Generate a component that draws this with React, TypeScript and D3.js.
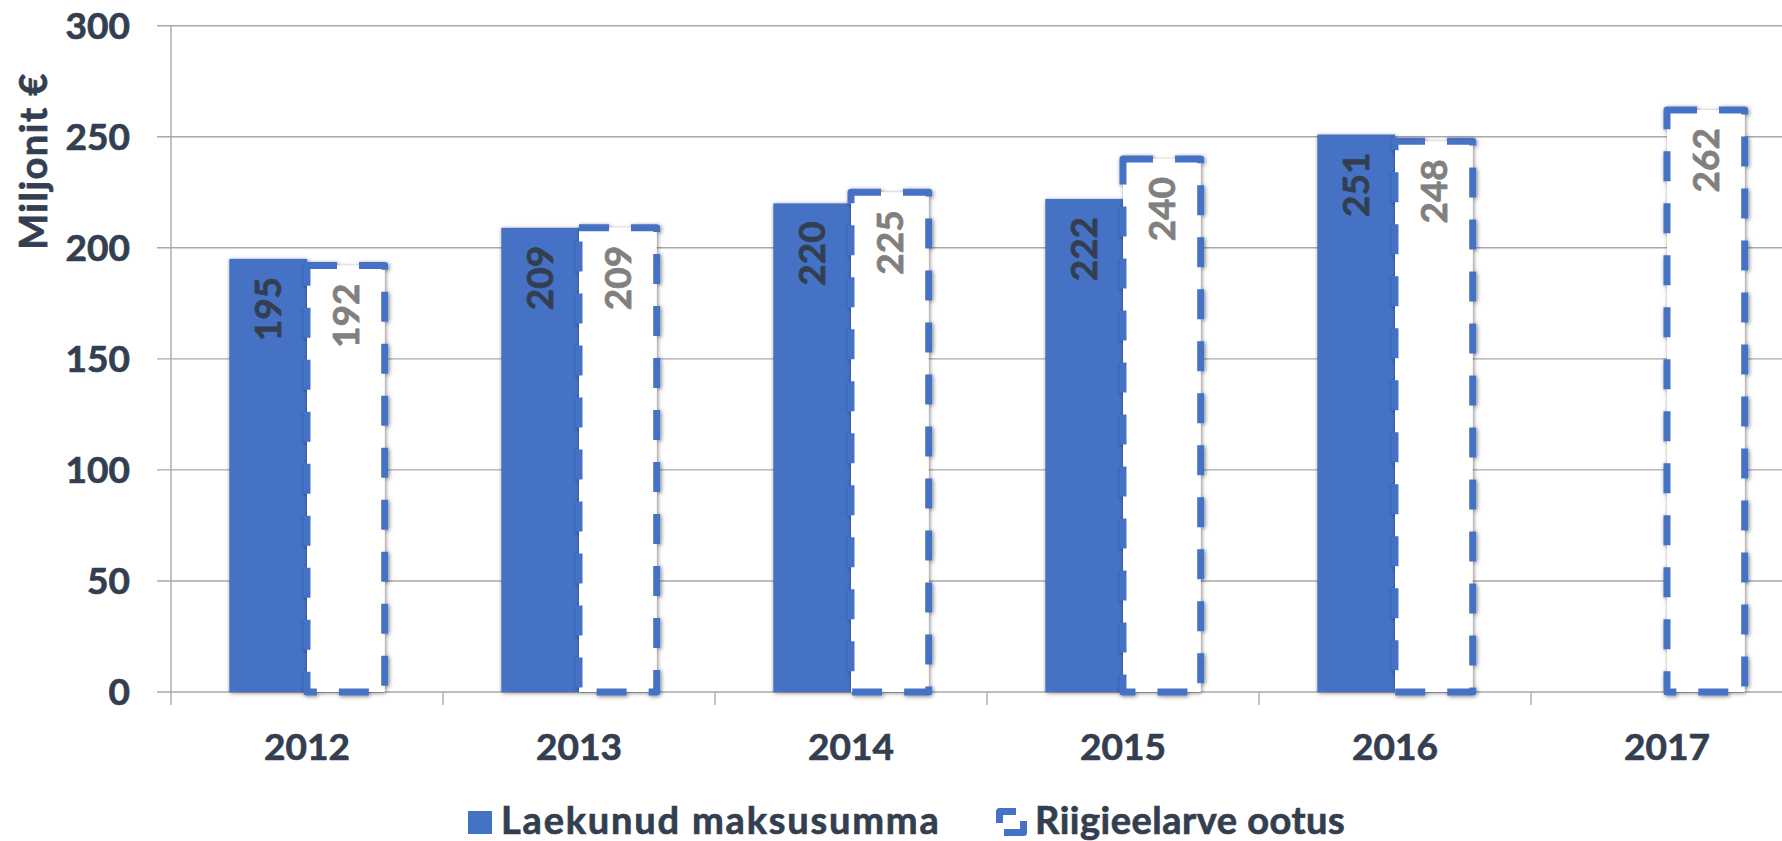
import React from "react";
import * as d3 from "d3";

const years = ["2012", "2013", "2014", "2015", "2016", "2017"];
const actual: (number | null)[] = [195, 209, 220, 222, 251, null];
const budget: number[] = [192, 209, 225, 240, 248, 262];
const yTicks = [0, 50, 100, 150, 200, 250, 300];
const seriesNames = ["Laekunud maksusumma", "Riigieelarve ootus"];

const W = 1782;
const H = 841;
const FONT = "Lato, 'Open Sans', sans-serif";
const FS = 37;
const FW = 700;
const DARK = "#333F50";
const GREY = "#808080";
const BLUE = "#4472C4";
const GRID = "#A9A9A9";
const SW = 0.7;

export default function App() {
  const left = 171;
  const right = 1803;
  const top = 25.7;
  const base = 692;
  const y = d3.scaleLinear().domain([0, 300]).range([base, top]);
  const x0 = d3.scaleBand<string>().domain(years).range([left, right]).paddingInner(0).paddingOuter(0);
  const x1 = d3
    .scaleBand<string>()
    .domain(seriesNames)
    .range([0, x0.bandwidth()])
    .paddingInner(0)
    .paddingOuter(0.75);
  const bw = x1.bandwidth();
  const cap = 0.7165 * FS;

  const txt = (color: string) => ({ fill: color, stroke: color, strokeWidth: SW, fontWeight: FW });

  return (
    <svg
      width={W}
      height={H}
      style={{ position: "absolute", left: 0, top: 0, background: "#fff" }}
      fontFamily={FONT}
    >
      <defs>
        <filter id="sh" x="-30%" y="-5%" width="160%" height="110%">
          <feDropShadow dx="1" dy="1" stdDeviation="2.2" floodColor="#000" floodOpacity="0.5" />
        </filter>
      </defs>
      <rect x={0} y={0} width={W} height={H} fill="#fff" />
      {yTicks.map((t) => (
        <line key={t} x1={157} x2={W} y1={y(t)} y2={y(t)} stroke={GRID} strokeWidth={1.4} />
      ))}
      <line x1={left} x2={left} y1={top} y2={705} stroke={GRID} strokeWidth={1.4} />
      {years.map((yr) => (
        <line
          key={yr}
          x1={(x0(yr) as number) + x0.bandwidth()}
          x2={(x0(yr) as number) + x0.bandwidth()}
          y1={base}
          y2={705}
          stroke={GRID}
          strokeWidth={1.4}
        />
      ))}
      {yTicks.map((t) => (
        <text key={t} x={130} y={y(t) + cap / 2} textAnchor="end" fontSize={FS} {...txt(DARK)}>
          {t}
        </text>
      ))}
      <text
        transform={`translate(${20 + cap},161) rotate(-90)`}
        textAnchor="middle"
        fontSize={38}
        letterSpacing={1.5}
        {...txt(DARK)}
      >
        Miljonit €
      </text>
      {years.map((yr, i) => {
        const gx = x0(yr) as number;
        const a = actual[i];
        const b = budget[i];
        const ax = gx + (x1(seriesNames[0]) as number);
        const bx = gx + (x1(seriesNames[1]) as number);
        return (
          <g key={yr}>
            {a != null && (
              <rect x={ax} y={y(a)} width={bw} height={base - y(a)} fill={BLUE} filter="url(#sh)" />
            )}
            <rect
              x={bx}
              y={y(b)}
              width={bw}
              height={base - y(b)}
              fill="#fff"
              stroke={BLUE}
              strokeWidth={7}
              strokeDasharray="30 22"
              strokeLinejoin="round"
              filter="url(#sh)"
            />
          </g>
        );
      })}
      {years.map((yr, i) => {
        const gx = x0(yr) as number;
        const a = actual[i];
        const b = budget[i];
        const acx = gx + (x1(seriesNames[0]) as number) + bw / 2;
        const bcx = gx + (x1(seriesNames[1]) as number) + bw / 2;
        return (
          <g key={"l" + yr}>
            {a != null && (
              <text
                transform={`translate(${acx + cap / 2},${y(a) + 18}) rotate(-90)`}
                textAnchor="end"
                fontSize={FS}
                {...txt(DARK)}
              >
                {a}
              </text>
            )}
            <text
              transform={`translate(${bcx + cap / 2},${y(b) + 18}) rotate(-90)`}
              textAnchor="end"
              fontSize={FS}
              {...txt(GREY)}
            >
              {b}
            </text>
          </g>
        );
      })}
      {years.map((yr) => (
        <text
          key={"x" + yr}
          x={(x0(yr) as number) + x0.bandwidth() / 2}
          y={760}
          textAnchor="middle"
          fontSize={FS}
          {...txt(DARK)}
        >
          {yr}
        </text>
      ))}
      <rect x={468} y={811} width={24} height={23} fill={BLUE} />
      <text x={501} y={834} fontSize={38} letterSpacing={1.8} {...txt(DARK)}>
        {seriesNames[0]}
      </text>
      <path d="M999.5,823 V811.5 H1016" fill="none" stroke={BLUE} strokeWidth={7} strokeLinejoin="round" />
      <path d="M1023.5,821 V832.5 H1004" fill="none" stroke={BLUE} strokeWidth={7} strokeLinejoin="round" />
      <text x={1035} y={834} fontSize={38} letterSpacing={0.5} {...txt(DARK)}>
        {seriesNames[1]}
      </text>
    </svg>
  );
}
